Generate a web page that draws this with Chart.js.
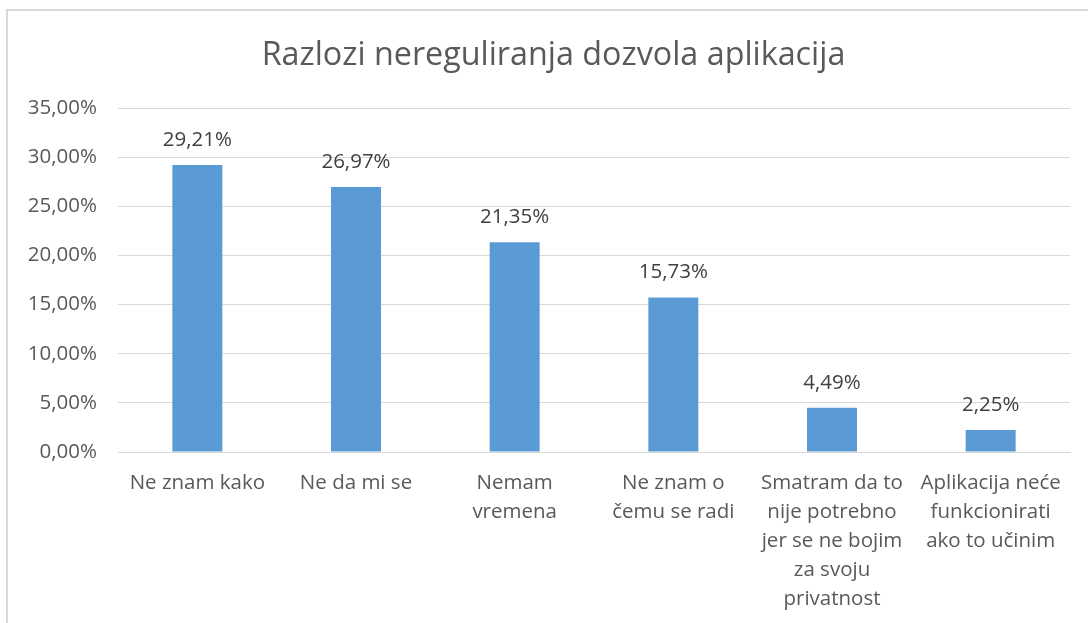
<!DOCTYPE html>
<html>
<head>
<meta charset="utf-8">
<script src="https://cdn.jsdelivr.net/npm/chart.js@4.4.1/dist/chart.umd.min.js"></script>
<style>
    html, body { margin: 0; padding: 0; background: #fff; }
    #frame {
        position: absolute; left: 6px; top: 9px; width: 1090px; height: 620px;
        border-left: 2px solid #d9d9d9; border-top: 2px solid #d9d9d9;
    }
    #wrap { position: absolute; left: 0; top: 0; width: 1088px; height: 623px; }
</style>
</head>
<body>
<div id="frame"></div>
<div id="wrap"><canvas id="razlozi_chart" width="1088" height="623"></canvas></div>
<script>
const chartTitle = 'Razlozi nereguliranja dozvola aplikacija';
const categories = [
    ['Ne znam kako'],
    ['Ne da mi se'],
    ['Nemam', 'vremena'],
    ['Ne znam o', 'čemu se radi'],
    ['Smatram da to', 'nije potrebno', 'jer se ne bojim', 'za svoju', 'privatnost'],
    ['Aplikacija neće', 'funkcionirati', 'ako to učinim']
];
const shares = [29.21, 26.97, 21.35, 15.73, 4.49, 2.25];

const FONT = "'Open Sans'";

function formatPct(v) {
    return v.toFixed(2).replace('.', ',') + '%';
}

document.addEventListener('DOMContentLoaded', function () {
    const ctx = document.getElementById('razlozi_chart').getContext('2d');

    // title centred on the whole frame (not only the plot), as in Excel
    const frameTitle = {
        id: 'frameTitle',
        afterDraw(chart) {
            const c = chart.ctx;
            c.save();
            c.font = '32.3px ' + FONT;
            c.fillStyle = '#595959';
            c.textAlign = 'center';
            c.textBaseline = 'middle';
            c.fillText(chartTitle, 553.5, 56);
            c.restore();
        }
    };

    // values above the bars
    const valueLabels = {
        id: 'valueLabels',
        afterDatasetsDraw(chart) {
            const c = chart.ctx;
            const meta = chart.getDatasetMeta(0);
            c.save();
            c.font = '20.5px ' + FONT;
            c.fillStyle = '#404040';
            c.textAlign = 'center';
            c.textBaseline = 'middle';
            meta.data.forEach(function (bar, i) {
                c.fillText(formatPct(shares[i]), bar.x, bar.y - 25);
            });
            c.restore();
        }
    };

    new Chart(ctx, {
        type: 'bar',
        data: {
            labels: categories,
            datasets: [{
                data: shares,
                backgroundColor: '#5b9bd5',
                borderWidth: 0,
                categoryPercentage: 1,
                barPercentage: 0.315
            }]
        },
        options: {
            responsive: false,
            animation: false,
            layout: { padding: { left: 0, right: 18, top: 108, bottom: 0 } },
            plugins: {
                legend: { display: false },
                tooltip: { enabled: false },
                title: { display: false }
            },
            scales: {
                x: {
                    grid: { display: false },
                    border: { display: true, color: '#d9d9d9', width: 1 },
                    ticks: {
                        color: '#595959',
                        font: { family: FONT, size: 20.5, lineHeight: 1.415 },
                        padding: 9,
                        maxRotation: 0,
                        autoSkip: false
                    },
                    afterFit: function (scale) { scale.height = 171; }
                },
                y: {
                    min: 0,
                    max: 35,
                    grid: { color: '#d9d9d9', lineWidth: 1, drawTicks: false },
                    border: { display: false },
                    ticks: {
                        stepSize: 5,
                        color: '#595959',
                        font: { family: FONT, size: 20.5 },
                        padding: 21,
                        callback: function (v) { return formatPct(v); }
                    },
                    afterFit: function (scale) { scale.width = 118; }
                }
            }
        },
        plugins: [valueLabels, frameTitle]
    });
});
</script>
</body>
</html>
